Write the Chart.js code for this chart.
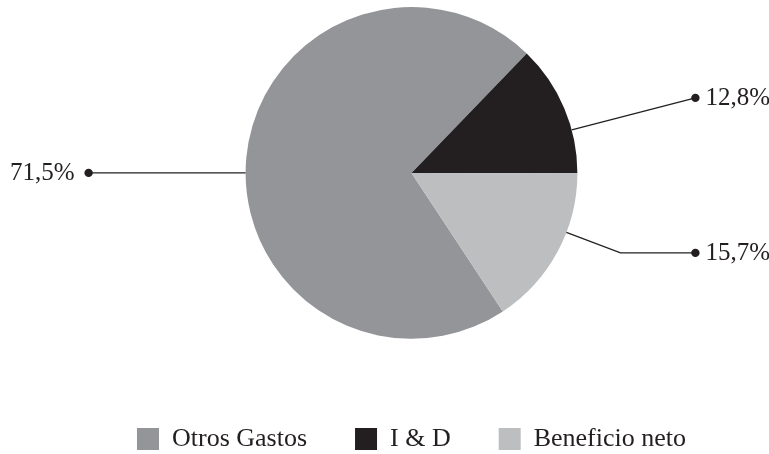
<!DOCTYPE html>
<html>
<head>
<meta charset="utf-8">
<script src="https://cdn.jsdelivr.net/npm/chart.js@4/dist/chart.umd.min.js"></script>
<style>
  html, body { margin: 0; padding: 0; background: #fff; }
  #wrap { width: 769px; height: 454px; }
</style>
</head>
<body>
<div id="wrap"><canvas id="grafica-pastel" width="769" height="454"></canvas></div>
<script>
const categorias = ["Otros Gastos", "I & D", "Beneficio neto"];
const porcentajes = [71.5, 12.8, 15.7];
const colores = ["#939598", "#231f20", "#bcbec0"];

// posición de las etiquetas con línea guía (por porción)
const guias = [
  { angulo: 180, dx: -157, dy: 0, codo: null, lado: "izq" },
  { angulo: -15, dx: 118, dy: -75, codo: null, lado: "der" },
  { angulo: 21, dx: 118, dy: 80, codo: 209, lado: "der" }
];

const fuente = "'Liberation Serif', 'Times New Roman', serif";

const etiquetasGuia = {
  id: "etiquetasGuia",
  afterDraw(chart) {
    const ctx = chart.ctx;
    const arco = chart.getDatasetMeta(0).data[0];
    const cx = arco.x, cy = arco.y, r = arco.outerRadius;
    const total = porcentajes.reduce((a, b) => a + b, 0);
    ctx.save();
    ctx.strokeStyle = "#231f20";
    ctx.fillStyle = "#231f20";
    ctx.lineWidth = 1.3;
    ctx.font = "25px " + fuente;
    ctx.textBaseline = "middle";
    guias.forEach((g, i) => {
      const a = g.angulo * Math.PI / 180;
      const x0 = cx + Math.cos(a) * r;
      const y0 = cy + Math.sin(a) * r;
      const xd = g.lado === "izq" ? cx - r + g.dx : cx + r + g.dx;
      const yd = cy + g.dy;
      ctx.beginPath();
      ctx.moveTo(x0, y0);
      if (g.codo !== null) ctx.lineTo(cx + g.codo, yd);
      ctx.lineTo(xd, yd);
      ctx.stroke();
      ctx.beginPath();
      ctx.arc(xd, yd, 4.2, 0, Math.PI * 2);
      ctx.fill();
      const texto = (porcentajes[i] / total * 100).toFixed(1).replace(".", ",") + "%";
      if (g.lado === "izq") {
        ctx.textAlign = "right";
        ctx.fillText(texto, xd - 14, yd + 1);
      } else {
        ctx.textAlign = "left";
        ctx.fillText(texto, xd + 10, yd + 1);
      }
    });
    ctx.restore();
  }
};

new Chart(document.getElementById("grafica-pastel").getContext("2d"), {
  type: "pie",
  data: {
    labels: categorias,
    datasets: [{
      data: porcentajes,
      backgroundColor: colores,
      borderWidth: 0
    }]
  },
  options: {
    responsive: false,
    animation: false,
    rotation: 146.6,
    layout: { padding: { left: 54, right: 0, top: 7, bottom: -8 } },
    plugins: {
      tooltip: { enabled: false },
      legend: {
        position: "bottom",
        title: { display: true, text: "", font: { size: 1 }, padding: { top: 38, bottom: 0 } },
        labels: {
          color: "#231f20",
          boxWidth: 22,
          boxHeight: 22,
          padding: 48,
          font: { family: fuente, size: 26 }
        }
      }
    }
  },
  plugins: [etiquetasGuia]
});
</script>
</body>
</html>
